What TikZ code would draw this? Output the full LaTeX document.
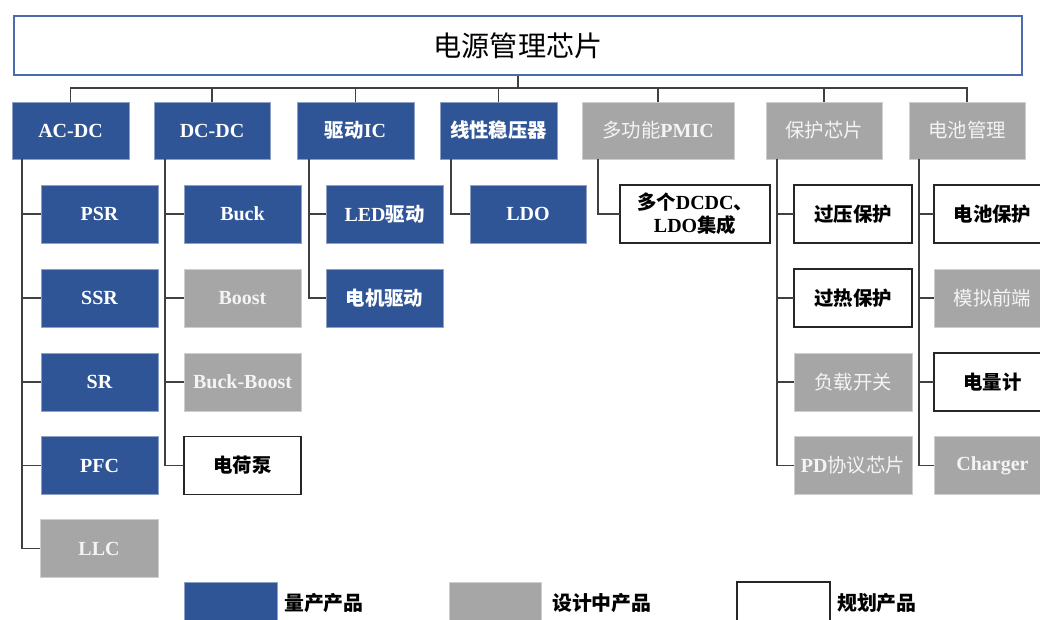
\documentclass[tikz,border=0pt]{standalone}
\usepackage{fontspec}
\setmainfont{Liberation Serif}
\newfontfamily\cjk[Scale=0.97]{Noto Sans CJK SC}
\newcommand\zhs[1]{{\cjk #1}}
\newcommand\zhr[1]{{\cjk\mdseries #1}}
\definecolor{mblue}{HTML}{2F5597}
\definecolor{mgray}{HTML}{A6A6A6}
\definecolor{gtext}{HTML}{F4F4F4}
\definecolor{tblue}{HTML}{4A6BAE}
\begin{document}
\begin{tikzpicture}[x=1pt,y=-1pt,
  box/.style={rectangle, inner sep=0pt, outer sep=0pt, minimum width=117pt, minimum height=58pt,
    font=\fontsize{20}{23}\selectfont\bfseries, align=center},
  prodbox/.style={box, fill=mblue, draw=mblue!55!white, line width=0.6pt, text=white},
  designbox/.style={box, fill=mgray, draw=mgray!55!white, line width=0.6pt, text=gtext},
  planbox/.style={box, fill=white, draw=black!85, line width=1.4pt, text=black},
  link/.style={draw=black!75, line width=1.4pt},
  legtext/.style={anchor=west, inner sep=0pt, font=\cjk\bfseries\fontsize{20.5}{22}\selectfont}
]
\useasboundingbox (0,0) rectangle (1040,620);

% title
\node[draw=tblue, line width=2.2pt, minimum width=1008pt, minimum height=59pt, inner sep=0pt,
  font=\cjk\fontsize{29}{30}\selectfont] (top) at (518,45.5) {电源管理芯片};

% level 1
\node[prodbox, minimum height=57pt, minimum width=117pt] (acdc) at (70.5,130.5) {AC-DC};
\node[prodbox, minimum height=57pt, minimum width=116pt] (dcdc) at (212,130.5) {DC-DC};
\node[prodbox, minimum height=57pt, minimum width=117pt] (drv) at (355.5,130.5) {\zhs{驱动}IC};
\node[prodbox, minimum height=57pt, minimum width=117pt] (lin) at (498.5,130.5) {\zhs{线性稳压器}};
\node[designbox, minimum height=57pt, minimum width=152pt] (pmic) at (658,130.5) {\zhr{多功能}PMIC};
\node[designbox, minimum height=57pt, minimum width=116pt] (prot) at (824,130.5) {\zhr{保护芯片}};
\node[designbox, minimum height=57pt, minimum width=116pt] (bat) at (967,130.5) {\zhr{电池管理}};

% bus
\draw[link] (top.south) -- ++(0,12);
\draw[link] (acdc.north) -- ++(0,-14) -| (bat.north);
\foreach \n in {dcdc,drv,lin,pmic,prot} \draw[link] (\n.north) -- ++(0,-14);

% AC-DC children
\node[prodbox] (psr) at (99.5,214) {PSR};
\node[prodbox] (ssr) at (99.5,298) {SSR};
\node[prodbox] (sr) at (99.5,382) {SR};
\node[prodbox] (pfc) at (99.5,465.5) {PFC};
\node[designbox, minimum width=118pt] (llc) at (99,548.5) {LLC};
\foreach \c in {psr,ssr,sr,pfc,llc} \draw[link] ([xshift=10pt]acdc.south west) |- (\c.west);

% DC-DC children
\node[prodbox] (buck) at (242.5,214) {Buck};
\node[designbox] (boost) at (242.5,298) {Boost};
\node[designbox] (bb) at (242.5,382) {Buck-Boost};
\node[planbox] (cp) at (242.5,465.5) {\zhs{电荷泵}};
\foreach \c in {buck,boost,bb,cp} \draw[link] ([xshift=11pt]dcdc.south west) |- (\c.west);

% driver children
\node[prodbox] (led) at (384.5,214) {LED\zhs{驱动}};
\node[prodbox] (motor) at (384.5,298) {\zhs{电机驱动}};
\foreach \c in {led,motor} \draw[link] ([xshift=12pt]drv.south west) |- (\c.west);

% linear regulator child
\node[prodbox, minimum width=116pt] (ldo) at (528,214) {LDO};
\draw[link] ([xshift=11pt]lin.south west) |- (ldo.west);

% PMIC child
\node[planbox, minimum width=150pt, font=\fontsize{20}{23}\selectfont\bfseries] (multi) at (695,214) {\zhs{多个}DCDC\zhs{、}\\LDO\zhs{集成}};
\draw[link] ([xshift=16pt]pmic.south west) |- (multi.west);

% protection children
\node[planbox, minimum width=118pt] (ovp) at (853,214) {\zhs{过压保护}};
\node[planbox, minimum width=118pt] (otp) at (853,298) {\zhs{过热保护}};
\node[designbox, minimum width=118pt] (load) at (853,382) {\zhr{负载开关}};
\node[designbox, minimum width=118pt] (pd) at (853,465.5) {PD\zhr{协议芯片}};
\foreach \c in {ovp,otp,load,pd} \draw[link] ([xshift=11pt]prot.south west) |- (\c.west);

% battery children
\node[planbox] (bp) at (992.5,214) {\zhs{电池保护}};
\node[designbox] (afe) at (992.5,298) {\zhr{模拟前端}};
\node[planbox] (gauge) at (992.5,382) {\zhs{电量计}};
\node[designbox] (chg) at (992.5,465.5) {Charger};
\foreach \c in {bp,afe,gauge,chg} \draw[link] ([xshift=10pt]bat.south west) |- (\c.west);

% legend
\node[prodbox, minimum width=93pt, minimum height=48pt] (lg1) at (230.5,606) {};
\node[legtext] (lt1) at (284,603) {量产产品};
\node[designbox, minimum width=92pt, minimum height=48pt] (lg2) at (495,606) {};
\node[legtext] (lt2) at (552,603) {设计中产品};
\node[planbox, minimum width=93pt, minimum height=48pt] (lg3) at (783.5,606) {};
\node[legtext] (lt3) at (837,603) {规划产品};
\end{tikzpicture}
\end{document}
